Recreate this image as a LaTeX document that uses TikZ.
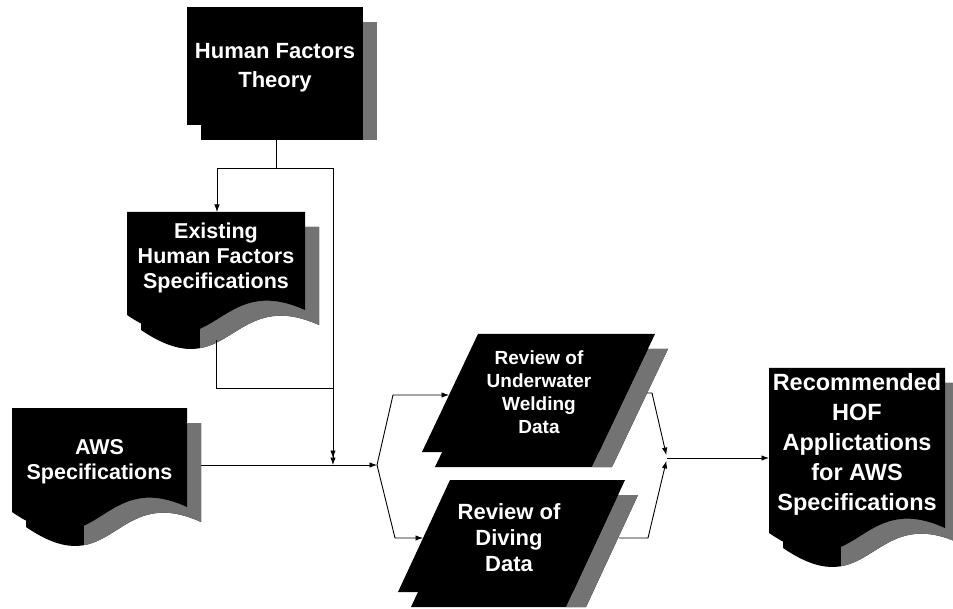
\documentclass[tikz,border=0pt]{standalone}
\usepackage{fontspec}
\setmainfont{Liberation Sans}
\usetikzlibrary{arrows.meta}
\colorlet{stripc}{black!55}
\tikzset{
  conn/.style={line width=0.9pt, black},
  arr/.style={conn, -{Latex[length=7.5pt,width=5.5pt]}},
  lbl/.style={text=white, align=center, inner sep=0pt},
}
% document path: cmd x y w h
\newcommand{\docp}[5]{%
  \pgfmathsetmacro\dxr{#2+#4}%
  \pgfmathsetmacro\dyr{#3+#5-5}%
  \pgfmathsetmacro\dxm{#2+0.5*#4}%
  \pgfmathsetmacro\dyc{#3+#5-45}%
  \pgfmathsetmacro\dyd{#3+#5+60}%
  \pgfmathsetmacro\dyl{#3+#5}%
  #1 (#2,#3) -- (\dxr,#3) -- (\dxr,\dyr) .. controls (\dxm,\dyc) and (\dxm,\dyd) .. (#2,\dyl) -- cycle;}
\newcommand{\docstack}[4]{%
  \begin{scope}
    \docp{\clip}{#1+14}{#2+15}{#3}{#4}
    \fill[black] (#1,#2) rectangle (#1+#3+30,#2+#4+90);
    \fill[stripc] (#1+14+0.33*#3,#2) rectangle (#1+#3+30,#2+#4+90);
  \end{scope}
  \docp{\fill[black]}{#1}{#2}{#3}{#4}}
% parallelogram path: cmd x y w h slant
\newcommand{\parp}[6]{%
  \pgfmathsetmacro\pxa{#2+#4}%
  \pgfmathsetmacro\pxb{#2+#4-#6}%
  \pgfmathsetmacro\pxc{#2-#6}%
  \pgfmathsetmacro\pyb{#3+#5}%
  #1 (#2,#3) -- (\pxa,#3) -- (\pxb,\pyb) -- (\pxc,\pyb) -- cycle;}
\newcommand{\parstack}[5]{%
  \begin{scope}
    \parp{\clip}{#1+13}{#2+15}{#3}{#4}{#5}
    \fill[black] (#1-#5,#2) rectangle (#1+#3+40,#2+#4+40);
    \pgfmathsetmacro\qa{#1+#3+0.3*#5}\pgfmathsetmacro\qb{#2-0.3*#4}%
    \pgfmathsetmacro\qc{#1+#3-1.4*#5}\pgfmathsetmacro\qd{#2+1.4*#4}%
    \pgfmathsetmacro\qe{#1+#3+80}%
    \fill[stripc] (\qa,\qb) -- (\qe,\qb) -- (\qe,\qd) -- (\qc,\qd) -- cycle;
  \end{scope}
  \parp{\fill[black]}{#1}{#2}{#3}{#4}{#5}}
\begin{document}
\begin{tikzpicture}[x=1pt,y=-1pt]
\useasboundingbox (0,0) rectangle (953,609);

% Human Factors Theory (stacked rectangles)
\fill[black] (201,22) rectangle (377,140);
\fill[stripc] (363,22) rectangle (377,140);
\fill[black] (187,7) rectangle (363,125);
\node[lbl, font=\fontsize{22}{29}\selectfont\bfseries] (hft) at (275,67.5) {Human Factors\\Theory};

% Existing Human Factors Specifications
\docstack{127}{212}{178}{103}
\node[lbl, font=\fontsize{21.5}{25}\selectfont\bfseries] (ehf) at (216,257.5) {Existing\\Human Factors\\Specifications};

% AWS Specifications
\docstack{12}{408}{175}{104}
\node[lbl, font=\fontsize{21.5}{25}\selectfont\bfseries] (aws) at (99.5,462) {AWS\\Specifications};

% Recommended
\docstack{769}{368}{176}{165}
\node[lbl, font=\fontsize{23.5}{30}\selectfont\bfseries] (rec) at (857,444) {Recommended\\HOF\\Applictations\\for AWS\\Specifications};

% Review of Underwater Welding Data
\parstack{478}{334}{177}{118}{56}
\node[lbl, font=\fontsize{19}{23}\selectfont\bfseries] (uw) at (539,392.5) {Review of\\Underwater\\Welding\\Data};

% Review of Diving Data
\parstack{450}{480}{175}{112}{52}
\node[lbl, font=\fontsize{22}{26}\selectfont\bfseries] (dv) at (509,537.5) {Review of\\Diving\\Data};

% connector points
\coordinate (hftb) at (276,140);
\coordinate (j1) at (276,168);
\coordinate (ehft) at (217,212);
\coordinate (j2) at (333,465);
\coordinate (ehfb) at (216,340);
\coordinate (j3) at (333,388);
\coordinate (awsr) at (201,465);
\coordinate (js) at (377,465);
\coordinate (uwl1) at (393,395);
\coordinate (uwl) at (449,395);
\coordinate (dvl1) at (395,538);
\coordinate (dvl) at (423,538);
\coordinate (uwr) at (647,393);
\coordinate (uwr1) at (652,393);
\coordinate (dvr) at (619,538);
\coordinate (dvr1) at (648,538);
\coordinate (jr) at (667,458);
\coordinate (recl) at (769,458);

\draw[conn] (hftb) -- (j1);
\draw[arr] (j1) -| (ehft);
\draw[arr, shorten >=7pt] (j1) -| (j2);
\draw[conn] (ehfb) |- (j3);
\draw[arr] (j3) -- (j2);
\draw[arr] (awsr) -- (js);
\draw[arr] (js) -- (uwl1) -- (uwl);
\draw[arr] (js) -- (dvl1) -- (dvl);
\draw[arr, shorten >=3pt] (uwr) -- (uwr1) -- (jr);
\draw[arr, shorten >=3pt] (dvr) -- (dvr1) -- (jr);
\draw[arr] (jr) -- (recl);
\end{tikzpicture}
\end{document}
